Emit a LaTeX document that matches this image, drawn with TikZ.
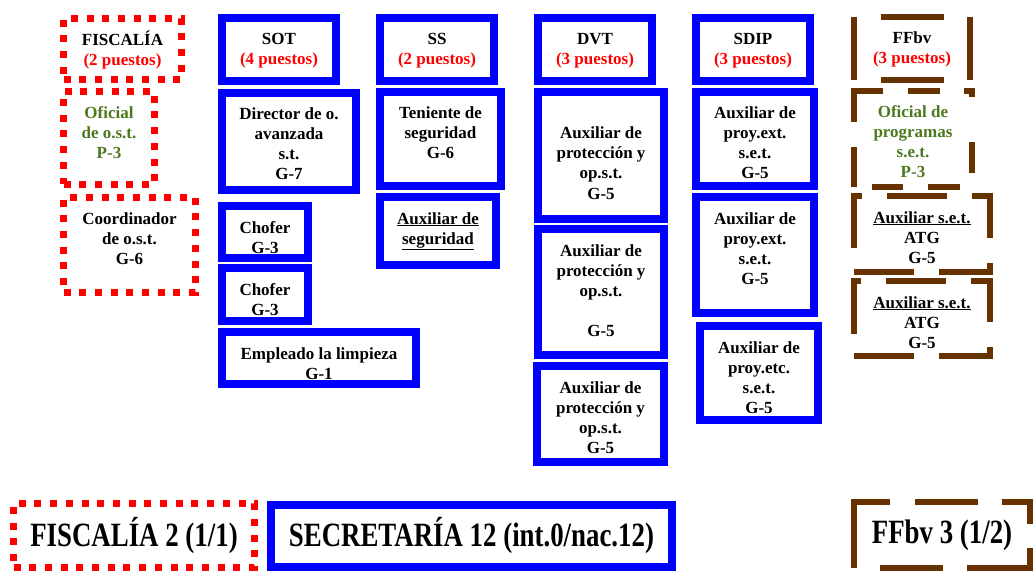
\documentclass[tikz,border=0pt]{standalone}
\usepackage{fontspec}
\setmainfont{Liberation Serif}
\newfontfamily\condserif[FakeStretch=0.79]{Liberation Serif}
\usepackage[dvipsnames]{xcolor}
\usepackage{tikz}
\usetikzlibrary{positioning}

\definecolor{ffbrown}{RGB}{102,51,0}
\definecolor{ofigreen}{RGB}{76,120,30}

% text of a box: top aligned, centred
\newcommand{\orgtext}[3]{\parbox[c][#2pt][t]{#1pt}{\centering\rule{0pt}{27pt}#3}}

\tikzset{
  orgnode/.style={anchor=north west, inner sep=0pt, outer sep=0pt,
    font=\fontsize{17}{20}\selectfont\bfseries},
  bluebox/.style={orgnode, draw=blue, line width=8pt},
  redbox/.style={orgnode, draw=red, line width=7pt, dash pattern=on 7pt off 8.7pt},
  brownbox/.style={orgnode, draw=ffbrown, line width=6pt, dash pattern=on 60pt off 25pt},
  bottomtext/.style={font=\condserif\fontsize{34}{40}\selectfont\bfseries}
}

\begin{document}
\begin{tikzpicture}[x=1pt, y=-1pt]
  \useasboundingbox (0,0) rectangle (1035,572);

  % FISCALIA
  \node[redbox] (fis) at (63.5,18.5) {\orgtext{118}{61}{FISCALÍA\\\textcolor{red}{(2 puestos)}}};
  \node[redbox] (ofi) at (63.5,91.5) {\orgtext{91}{93}{\color{ofigreen}Oficial\\de o.s.t.\\P-3}};
  \node[redbox] (coo) at (63.5,197.5) {\orgtext{132}{95}{Coordinador\\de o.s.t.\\G-6}};

  % SOT
  \node[bluebox] (sot) at (222,18) {\orgtext{114}{63}{SOT\\\textcolor{red}{(4 puestos)}}};
  \node[bluebox] (dir) at (222,93) {\orgtext{134}{97}{Director de o.\\avanzada\\s.t.\\G-7}};
  \node[bluebox] (cho1) at (222,206) {\orgtext{86}{52}{Chofer\\G-3}};
  \node[bluebox] (cho2) at (222,268) {\orgtext{86}{53}{Chofer\\G-3}};
  \node[bluebox] (emp) at (222,332) {\orgtext{194}{52}{Empleado la limpieza\\G-1}};

  % SS
  \node[bluebox] (ss) at (380,18) {\orgtext{114}{63}{SS\\\textcolor{red}{(2 puestos)}}};
  \node[bluebox] (ten) at (380,92) {\orgtext{121}{94}{Teniente de\\seguridad\\G-6}};
  \node[bluebox] (aseg) at (380,197) {\orgtext{116}{68}{\underline{Auxiliar de}\\\underline{seguridad}}};

  % DVT
  \node[bluebox] (dvt) at (538,18) {\orgtext{114}{63}{DVT\\\textcolor{red}{(3 puestos)}}};
  \node[bluebox] (prot1) at (538,92) {\orgtext{126}{127}{\\Auxiliar de\\protección y\\op.s.t.\\G-5}};
  \node[bluebox] (prot2) at (538,229) {\orgtext{126}{126}{Auxiliar de\\protección y\\op.s.t.\\\mbox{}\\G-5}};
  \node[bluebox] (prot3) at (537,366) {\orgtext{127}{96}{Auxiliar de\\protección y\\op.s.t.\\G-5}};

  % SDIP
  \node[bluebox] (sdip) at (696,18) {\orgtext{114}{63}{SDIP\\\textcolor{red}{(3 puestos)}}};
  \node[bluebox] (pext1) at (696,92) {\orgtext{118}{94}{Auxiliar de\\proy.ext.\\s.e.t.\\G-5}};
  \node[bluebox] (pext2) at (696,197) {\orgtext{118}{116}{Auxiliar de\\proy.ext.\\s.e.t.\\G-5}};
  \node[bluebox] (petc) at (700,326) {\orgtext{118}{94}{Auxiliar de\\proy.etc.\\s.e.t.\\G-5}};

  % FFbv
  \node[brownbox, dash pattern=on 63pt off 26.5pt, dash phase=63pt] (ffbv) at (854,17)
    {\orgtext{116}{63}{FFbv\\\textcolor{red}{(3 puestos)}}};
  \node[brownbox, dash pattern=on 31pt off 25pt on 32pt off 26pt on 31pt off 45pt on 14pt off 24pt
    on 32pt off 25pt on 60pt off 25pt on 40pt off 18pt, dash phase=410pt] (ofp) at (854,91)
    {\orgtext{118}{96}{\color{ofigreen}Oficial de\\programas\\s.e.t.\\P-3}};
  \node[brownbox] (atg1) at (854,196) {\orgtext{136}{76}{\underline{Auxiliar s.e.t.}\\ATG\\G-5}};
  \node[brownbox] (atg2) at (854,281) {\orgtext{136}{75}{\underline{Auxiliar s.e.t.}\\ATG\\G-5}};

  % totals
  \node[redbox, bottomtext, minimum width=241pt, minimum height=64pt] (fistot) at (13.5,503.5) {FISCALÍA 2 (1/1)};
  \node[bluebox, bottomtext, minimum width=401pt, minimum height=62pt] (sectot) at (271,505) {SECRETARÍA 12 (int.0/nac.12)};
  \node[brownbox, bottomtext, minimum width=176pt, minimum height=66pt,
    dash pattern=on 63pt off 24pt on 83pt off 24pt on 50pt off 24pt on 63pt off 25pt on 102pt off 26pt,
    dash phase=458pt] (fftot) at (854,502) {FFbv 3 (1/2)};
\end{tikzpicture}
\end{document}
